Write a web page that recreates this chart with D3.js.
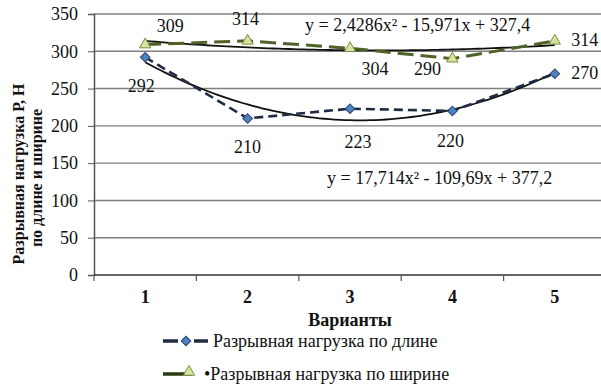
<!DOCTYPE html>
<html><head><meta charset="utf-8">
<script src="https://cdn.jsdelivr.net/npm/d3@7"></script>
<style>
html,body{margin:0;padding:0;background:#fff;}
</style></head>
<body><svg id="c" width="601" height="385"></svg>
<script>
const categories = ["1","2","3","4","5"];
const lengthValues = [292, 210, 223, 220, 270];
const widthValues = [309, 314, 304, 290, 314];
const yTicks = [0, 50, 100, 150, 200, 250, 300, 350];
const lengthTrendCoef = [17.714, -109.69, 377.2];
const widthTrendCoef = [2.4286, -15.971, 327.4];
const lengthEq = "y = 17,714x² - 109,69x + 377,2";
const widthEq = "y = 2,4286x² - 15,971x + 327,4";
const seriesNames = ["Разрывная нагрузка по длине", "•Разрывная нагрузка по ширине"];

const FONT = "Liberation Serif";
const FS = "18px";
const svg = d3.select("#c").style("font-family", FONT);
const x = d3.scaleBand().domain(categories).range([94, 606]);
const y = d3.scaleLinear().domain([0, 350]).range([275, 14]);
const xc = c => x(c) + x.bandwidth() / 2;
const xn = v => x("1") + x.bandwidth() / 2 + (v - 1) * x.step();

// gridlines
svg.append("g").selectAll("line").data(yTicks.filter(d => d > 0)).join("line")
  .attr("x1", 94).attr("x2", 601).attr("y1", d => y(d)).attr("y2", d => y(d))
  .attr("stroke", "#7f7f7f").attr("stroke-width", 1.4);

// y axis
const ya = svg.append("g").attr("transform", "translate(94,0)")
  .call(d3.axisLeft(y).tickValues(yTicks).tickSize(6).tickPadding(10));
ya.select(".domain").attr("stroke", "#555").attr("stroke-width", 1.5);
ya.selectAll(".tick line").attr("stroke", "#555");
ya.selectAll("text").style("font-family", FONT).style("font-size", FS).attr("fill", "#111");

// x axis
const xa = svg.append("g").attr("transform", "translate(0,275)")
  .call(d3.axisBottom(x).tickSize(0).tickPadding(15));
xa.select(".domain").remove();
xa.selectAll("text").style("font-family", FONT).style("font-size", FS).style("font-weight", "bold").attr("fill", "#111");
svg.append("line").attr("x1", 94).attr("x2", 601).attr("y1", 275).attr("y2", 275).attr("stroke", "#333").attr("stroke-width", 1.6);
svg.append("g").selectAll("line").data(d3.range(6)).join("line")
  .attr("x1", i => 94 + i * x.step()).attr("x2", i => 94 + i * x.step())
  .attr("y1", 275).attr("y2", 281).attr("stroke", "#555").attr("stroke-width", 1.2);

// trend lines & series
const tv = (c, v) => c[0] * v * v + c[1] * v + c[2];
const xs = d3.range(1, 5.001, 0.05);
const tl = coef => d3.line().x(v => xn(v)).y(v => y(tv(coef, v)));
svg.append("path").datum(xs).attr("d", tl(widthTrendCoef)).attr("fill", "none").attr("stroke", "#111").attr("stroke-width", 1.8);

const line = d3.line().x((d, i) => xc(categories[i])).y(d => y(d));
svg.append("path").datum(widthValues).attr("d", line).attr("fill", "none")
  .attr("stroke", "#4f6228").attr("stroke-width", 3).attr("stroke-dasharray", "16,7");
svg.append("path").datum(xs).attr("d", tl(lengthTrendCoef)).attr("fill", "none").attr("stroke", "#111").attr("stroke-width", 1.8);
svg.append("path").datum(lengthValues).attr("d", line).attr("fill", "none")
  .attr("stroke", "#1f2a44").attr("stroke-width", 2.6).attr("stroke-dasharray", "9,5");

const tri = d3.symbol().type(d3.symbolTriangle).size(55);
const dia = d3.symbol().type(d3.symbolSquare).size(46);
svg.append("g").selectAll("path").data(widthValues).join("path")
  .attr("transform", (d, i) => `translate(${xc(categories[i])},${y(d)})`)
  .attr("d", tri).attr("fill", "#d7e4a0").attr("stroke", "#7a8c3c").attr("stroke-width", 1);
svg.append("g").selectAll("path").data(lengthValues).join("path")
  .attr("transform", (d, i) => `translate(${xc(categories[i])},${y(d)}) rotate(45)`)
  .attr("d", dia).attr("fill", "#4f81bd").attr("stroke", "#2a4470").attr("stroke-width", 1);

// data labels
const lenOff = [[-4, 35], [0, 35], [8, 39], [-2, 36], [30, 5]];
const widOff = [[25, -13], [-2, -16], [25, 27], [-25, 16], [30, 5]];
const lab = svg.append("g").style("font-size", FS).attr("fill", "#111").attr("text-anchor", "middle");
lengthValues.forEach((v, i) => lab.append("text").attr("x", xc(categories[i]) + lenOff[i][0]).attr("y", y(v) + lenOff[i][1]).text(v));
widthValues.forEach((v, i) => lab.append("text").attr("x", xc(categories[i]) + widOff[i][0]).attr("y", y(v) + widOff[i][1]).text(v));

// equations
svg.append("text").attr("x", 305).attr("y", 31).style("font-size", FS).attr("fill", "#111").text(widthEq);
svg.append("text").attr("x", 327).attr("y", 184).style("font-size", FS).attr("fill", "#111").text(lengthEq);

// axis titles
const yt = svg.append("text").attr("transform", "translate(24,174) rotate(-90)")
  .attr("text-anchor", "middle").style("font-size", "16px").style("font-weight", "bold").attr("fill", "#111");
yt.append("tspan").attr("x", 0).attr("dy", 0).text("Разрывная нагрузка Р, Н");
yt.append("tspan").attr("x", -4).attr("dy", 18).text("по длине и ширине");
svg.append("text").attr("x", 350).attr("y", 326).attr("text-anchor", "middle")
  .style("font-size", FS).style("font-weight", "bold").attr("fill", "#111").text("Варианты");

// legend
const lg = svg.append("g");
lg.append("line").attr("x1", 163).attr("x2", 178).attr("y1", 341).attr("y2", 341).attr("stroke", "#1f2a44").attr("stroke-width", 3.5);
lg.append("line").attr("x1", 194).attr("x2", 208).attr("y1", 341).attr("y2", 341).attr("stroke", "#1f2a44").attr("stroke-width", 3.5);
lg.append("path").attr("transform", "translate(186,341) rotate(45)").attr("d", dia).attr("fill", "#4f81bd").attr("stroke", "#2a4470");
lg.append("text").attr("x", 213).attr("y", 347).style("font-size", FS).attr("fill", "#111").text(seriesNames[0]);
lg.append("line").attr("x1", 163).attr("x2", 192).attr("y1", 374).attr("y2", 374)
  .attr("stroke", "#2b3a12").attr("stroke-width", 3.5);
lg.append("path").attr("transform", "translate(189,372)").attr("d", tri).attr("fill", "#d7e4a0").attr("stroke", "#7a8c3c");
lg.append("text").attr("x", 204).attr("y", 380).style("font-size", FS).attr("fill", "#111").text(seriesNames[1]);
</script></body></html>
